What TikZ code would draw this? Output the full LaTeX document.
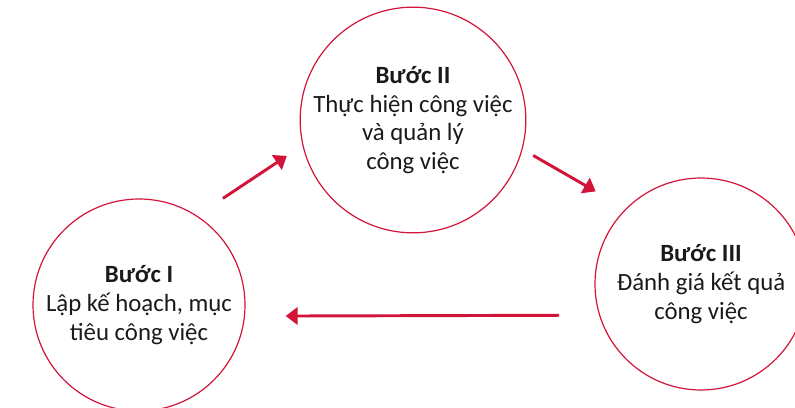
\documentclass[tikz,border=0pt]{standalone}
\usepackage{fontspec}
\setmainfont{Carlito}
\usepackage{xcolor}
\usetikzlibrary{arrows.meta}
\definecolor{stepred}{HTML}{D2143A}
\definecolor{steptext}{HTML}{1A1A1A}
\tikzset{
  stepnode/.style={circle,draw=stepred,line width=0.9pt,minimum size=159pt,inner sep=0pt,align=center,text=steptext,font=\fontsize{18.6}{21.5}\selectfont},
  flowedge/.style={-{Triangle[length=9pt,width=13pt]},line width=2.2pt,stepred},
}

\begin{document}
\begin{tikzpicture}[x=0.75pt,y=-0.75pt]
  \useasboundingbox (0,0) rectangle (795,407);
  \clip (0,0) rectangle (795,407);
  \node[stepnode] (nStepI) at (139,305) {\textbf{Bước I}\\Lập kế hoạch, mục\\tiêu công việc};
  \node[stepnode] (nStepII) at (413,120) {\textbf{Bước II}\\Thực hiện công việc\\và quản lý\\công việc};
  \node[stepnode] (nStepIII) at (701,284) {\textbf{Bước III}\\Đánh giá kết quả\\công việc};
  \draw[flowedge,shorten <=23.3pt,shorten >=14.1pt] (nStepI.57.7) -- (nStepII.193.6);
  \draw[flowedge,shorten <=9.2pt,shorten >=25.9pt] (nStepII.345) -- (nStepIII.135.8);
  \draw[flowedge,shorten <=30pt,shorten >=30.5pt] (nStepIII.197.6) -- (nStepI.354);
\end{tikzpicture}
\end{document}
